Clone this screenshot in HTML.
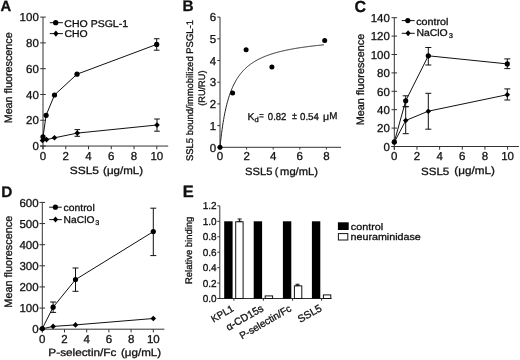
<!DOCTYPE html>
<html><head><meta charset="utf-8"><style>
html,body{margin:0;padding:0;background:#fff;}
svg{display:block;font-family:'Liberation Sans', sans-serif;will-change:transform;}
text{text-rendering:geometricPrecision;fill:#111;stroke:#111;stroke-width:0.3px;}
</style></head><body>
<svg width="520" height="360" viewBox="0 0 520 360">
<rect width="520" height="360" fill="#fff"/>
<text transform="translate(0.43,10.60) scale(0.985,0.985)" font-size="15" font-weight="bold">A</text>
<line x1="43.00" y1="17.10" x2="43.00" y2="149.25" stroke="#333" stroke-width="1"/>
<line x1="40.00" y1="146.05" x2="168.18" y2="146.05" stroke="#333" stroke-width="1"/>
<line x1="40.20" y1="146.05" x2="45.80" y2="146.05" stroke="#333" stroke-width="1"/>
<text x="38.80" y="150.25" font-size="11.5" text-anchor="end" font-weight="normal" >0</text>
<line x1="40.20" y1="120.26" x2="45.80" y2="120.26" stroke="#333" stroke-width="1"/>
<text x="38.80" y="124.46" font-size="11.5" text-anchor="end" font-weight="normal" >20</text>
<line x1="40.20" y1="94.47" x2="45.80" y2="94.47" stroke="#333" stroke-width="1"/>
<text x="38.80" y="98.67" font-size="11.5" text-anchor="end" font-weight="normal" >40</text>
<line x1="40.20" y1="68.68" x2="45.80" y2="68.68" stroke="#333" stroke-width="1"/>
<text x="38.80" y="72.88" font-size="11.5" text-anchor="end" font-weight="normal" >60</text>
<line x1="40.20" y1="42.89" x2="45.80" y2="42.89" stroke="#333" stroke-width="1"/>
<text x="38.80" y="47.09" font-size="11.5" text-anchor="end" font-weight="normal" >80</text>
<line x1="40.20" y1="17.10" x2="45.80" y2="17.10" stroke="#333" stroke-width="1"/>
<text x="38.80" y="21.30" font-size="11.5" text-anchor="end" font-weight="normal" >100</text>
<line x1="43.00" y1="146.05" x2="43.00" y2="149.25" stroke="#333" stroke-width="1"/>
<text x="43.00" y="160.20" font-size="11.5" text-anchor="middle" font-weight="normal" >0</text>
<line x1="65.76" y1="146.05" x2="65.76" y2="149.25" stroke="#333" stroke-width="1"/>
<text x="65.76" y="160.20" font-size="11.5" text-anchor="middle" font-weight="normal" >2</text>
<line x1="88.52" y1="146.05" x2="88.52" y2="149.25" stroke="#333" stroke-width="1"/>
<text x="88.52" y="160.20" font-size="11.5" text-anchor="middle" font-weight="normal" >4</text>
<line x1="111.28" y1="146.05" x2="111.28" y2="149.25" stroke="#333" stroke-width="1"/>
<text x="111.28" y="160.20" font-size="11.5" text-anchor="middle" font-weight="normal" >6</text>
<line x1="134.04" y1="146.05" x2="134.04" y2="149.25" stroke="#333" stroke-width="1"/>
<text x="134.04" y="160.20" font-size="11.5" text-anchor="middle" font-weight="normal" >8</text>
<line x1="156.80" y1="146.05" x2="156.80" y2="149.25" stroke="#333" stroke-width="1"/>
<text x="156.80" y="160.20" font-size="11.5" text-anchor="middle" font-weight="normal" >10</text>
<text transform="translate(69.73,173.75) scale(1.139,1.000)" font-size="10.5">SSL5</text>
<text transform="translate(103.08,174.10) scale(1.097,1.000)" font-size="10.5">(&#956;g/mL)</text>
<text transform="translate(12.03,123.35) scale(1.000,0.998) rotate(-90)" font-size="10.8">Mean fluorescence</text>
<line x1="49.80" y1="22.70" x2="62.90" y2="22.70" stroke="#111" stroke-width="1"/>
<circle cx="55.70" cy="22.70" r="2.65" fill="#000"/>
<line x1="49.80" y1="33.60" x2="62.90" y2="33.60" stroke="#111" stroke-width="1"/>
<path d="M53.30,33.60L55.90,30.50L58.50,33.60L55.90,36.70Z" fill="#000"/>
<text transform="translate(64.36,26.57) scale(1.073,1.000)" font-size="9.8">CHO PSGL-1</text>
<text transform="translate(64.47,37.12) scale(1.065,1.000)" font-size="9.8">CHO</text>
<polyline points="43.00,136.80 46.10,115.30 54.50,95.00 77.00,74.20 156.70,44.40" fill="none" stroke="#111" stroke-width="1"/>
<line x1="156.70" y1="38.75" x2="156.70" y2="50.20" stroke="#111" stroke-width="1"/>
<line x1="153.90" y1="38.75" x2="159.50" y2="38.75" stroke="#111" stroke-width="1"/>
<line x1="153.90" y1="50.20" x2="159.50" y2="50.20" stroke="#111" stroke-width="1"/>
<circle cx="43.00" cy="136.80" r="2.6" fill="#000"/>
<circle cx="46.10" cy="115.30" r="2.6" fill="#000"/>
<circle cx="54.50" cy="95.00" r="2.6" fill="#000"/>
<circle cx="77.00" cy="74.20" r="2.6" fill="#000"/>
<circle cx="156.70" cy="44.40" r="2.6" fill="#000"/>
<polyline points="42.50,140.50 46.50,139.60 54.50,137.80 77.30,133.10 157.00,125.00" fill="none" stroke="#111" stroke-width="1"/>
<line x1="77.30" y1="129.60" x2="77.30" y2="136.30" stroke="#111" stroke-width="1"/>
<line x1="74.50" y1="129.60" x2="80.10" y2="129.60" stroke="#111" stroke-width="1"/>
<line x1="74.50" y1="136.30" x2="80.10" y2="136.30" stroke="#111" stroke-width="1"/>
<line x1="157.00" y1="119.00" x2="157.00" y2="131.20" stroke="#111" stroke-width="1"/>
<line x1="154.20" y1="119.00" x2="159.80" y2="119.00" stroke="#111" stroke-width="1"/>
<line x1="154.20" y1="131.20" x2="159.80" y2="131.20" stroke="#111" stroke-width="1"/>
<path d="M39.70,140.50L42.50,137.70L45.30,140.50L42.50,143.30Z" fill="#000"/>
<path d="M43.70,139.60L46.50,136.80L49.30,139.60L46.50,142.40Z" fill="#000"/>
<path d="M51.70,137.80L54.50,135.00L57.30,137.80L54.50,140.60Z" fill="#000"/>
<path d="M74.50,133.10L77.30,130.30L80.10,133.10L77.30,135.90Z" fill="#000"/>
<path d="M154.20,125.00L157.00,122.20L159.80,125.00L157.00,127.80Z" fill="#000"/>
<text transform="translate(182.49,11.00) scale(1.024,1.024)" font-size="15" font-weight="bold">B</text>
<line x1="220.00" y1="17.10" x2="220.00" y2="149.30" stroke="#333" stroke-width="1"/>
<line x1="220.00" y1="147.30" x2="341.03" y2="147.30" stroke="#333" stroke-width="1"/>
<line x1="217.30" y1="147.30" x2="220.00" y2="147.30" stroke="#333" stroke-width="1"/>
<text x="216.20" y="151.50" font-size="11.5" text-anchor="end" font-weight="normal" >0</text>
<line x1="217.30" y1="125.60" x2="220.00" y2="125.60" stroke="#333" stroke-width="1"/>
<text x="216.20" y="129.80" font-size="11.5" text-anchor="end" font-weight="normal" >1</text>
<line x1="217.30" y1="103.90" x2="220.00" y2="103.90" stroke="#333" stroke-width="1"/>
<text x="216.20" y="108.10" font-size="11.5" text-anchor="end" font-weight="normal" >2</text>
<line x1="217.30" y1="82.20" x2="220.00" y2="82.20" stroke="#333" stroke-width="1"/>
<text x="216.20" y="86.40" font-size="11.5" text-anchor="end" font-weight="normal" >3</text>
<line x1="217.30" y1="60.50" x2="220.00" y2="60.50" stroke="#333" stroke-width="1"/>
<text x="216.20" y="64.70" font-size="11.5" text-anchor="end" font-weight="normal" >4</text>
<line x1="217.30" y1="38.80" x2="220.00" y2="38.80" stroke="#333" stroke-width="1"/>
<text x="216.20" y="43.00" font-size="11.5" text-anchor="end" font-weight="normal" >5</text>
<line x1="217.30" y1="17.10" x2="220.00" y2="17.10" stroke="#333" stroke-width="1"/>
<text x="216.20" y="21.30" font-size="11.5" text-anchor="end" font-weight="normal" >6</text>
<line x1="220.00" y1="147.30" x2="220.00" y2="149.50" stroke="#333" stroke-width="1"/>
<text x="220.00" y="160.30" font-size="11.5" text-anchor="middle" font-weight="normal" >0</text>
<line x1="246.60" y1="147.30" x2="246.60" y2="149.50" stroke="#333" stroke-width="1"/>
<text x="246.60" y="160.30" font-size="11.5" text-anchor="middle" font-weight="normal" >2</text>
<line x1="273.20" y1="147.30" x2="273.20" y2="149.50" stroke="#333" stroke-width="1"/>
<text x="273.20" y="160.30" font-size="11.5" text-anchor="middle" font-weight="normal" >4</text>
<line x1="299.80" y1="147.30" x2="299.80" y2="149.50" stroke="#333" stroke-width="1"/>
<text x="299.80" y="160.30" font-size="11.5" text-anchor="middle" font-weight="normal" >6</text>
<line x1="326.40" y1="147.30" x2="326.40" y2="149.50" stroke="#333" stroke-width="1"/>
<text x="326.40" y="160.30" font-size="11.5" text-anchor="middle" font-weight="normal" >8</text>
<text transform="translate(245.07,174.90) scale(1.063,1.000)" font-size="10.5">SSL5</text>
<text transform="translate(280.10,175.10) scale(1.063,1.000)" font-size="10.5">mg/mL)</text>
<text transform="translate(274.85,175.10)" font-size="10.5">(</text>
<text transform="translate(192.55,161.09) scale(1.000,0.987) rotate(-90)" font-size="9.6">SSL5 bound/immobilized PSGL-1</text>
<text transform="translate(204.62,105.79) scale(1.000,0.981) rotate(-90)" font-size="9.4">(RU/RU)</text>
<polyline points="220.00,147.30 220.52,142.25 221.04,137.63 221.56,133.39 222.08,129.49 222.60,125.87 223.12,122.52 223.64,119.41 224.16,116.51 224.68,113.79 225.20,111.25 225.72,108.87 226.24,106.63 226.76,104.51 227.28,102.52 227.80,100.64 228.32,98.86 228.84,97.17 229.36,95.56 229.88,94.04 230.40,92.58 230.92,91.20 231.44,89.88 231.96,88.62 232.48,87.41 233.00,86.26 233.52,85.16 234.04,84.10 234.56,83.08 235.08,82.11 235.60,81.17 236.12,80.27 236.64,79.40 237.16,78.56 237.68,77.75 238.20,76.98 238.72,76.22 239.24,75.50 239.76,74.80 240.28,74.12 240.80,73.46 241.32,72.83 241.84,72.22 242.36,71.62 242.88,71.04 243.40,70.48 243.92,69.94 244.44,69.41 244.96,68.90 245.48,68.40 246.00,67.92 246.52,67.45 247.04,66.99 247.56,66.54 248.08,66.11 248.60,65.69 249.12,65.28 249.64,64.88 250.16,64.48 250.68,64.10 251.20,63.73 251.72,63.37 252.24,63.01 252.76,62.67 253.28,62.33 253.80,62.00 254.32,61.68 254.84,61.36 255.36,61.06 255.88,60.76 256.40,60.46 256.92,60.17 257.44,59.89 257.96,59.61 258.48,59.34 259.00,59.08 259.52,58.82 260.04,58.57 260.56,58.32 261.08,58.07 261.60,57.83 262.12,57.60 262.64,57.37 263.16,57.14 263.68,56.92 264.20,56.71 264.72,56.49 265.24,56.28 265.76,56.08 266.28,55.88 266.80,55.68 267.32,55.48 267.84,55.29 268.36,55.11 268.88,54.92 269.40,54.74 269.92,54.56 270.44,54.39 270.96,54.21 271.48,54.05 272.00,53.88 272.52,53.72 273.04,53.55 273.56,53.40 274.08,53.24 274.60,53.09 275.12,52.93 275.64,52.79 276.16,52.64 276.68,52.49 277.20,52.35 277.72,52.21 278.24,52.07 278.76,51.94 279.28,51.81 279.80,51.67 280.32,51.54 280.84,51.42 281.36,51.29 281.88,51.16 282.40,51.04 282.92,50.92 283.44,50.80 283.96,50.68 284.48,50.57 285.00,50.45 285.52,50.34 286.04,50.23 286.56,50.12 287.08,50.01 287.60,49.90 288.12,49.80 288.64,49.69 289.16,49.59 289.68,49.49 290.20,49.39 290.72,49.29 291.24,49.19 291.76,49.10 292.28,49.00 292.80,48.91 293.32,48.81 293.84,48.72 294.36,48.63 294.88,48.54 295.40,48.45 295.92,48.37 296.44,48.28 296.96,48.19 297.48,48.11 298.00,48.03 298.52,47.94 299.04,47.86 299.56,47.78 300.08,47.70 300.60,47.62 301.12,47.55 301.64,47.47 302.16,47.39 302.68,47.32 303.20,47.24 303.72,47.17 304.24,47.10 304.76,47.03 305.28,46.95 305.80,46.88 306.32,46.81 306.85,46.74 307.37,46.68 307.89,46.61 308.41,46.54 308.93,46.48 309.45,46.41 309.97,46.35 310.49,46.28 311.01,46.22 311.53,46.16 312.05,46.09 312.57,46.03 313.09,45.97 313.61,45.91 314.13,45.85 314.65,45.79 315.17,45.73 315.69,45.67 316.21,45.62 316.73,45.56 317.25,45.50 317.77,45.45 318.29,45.39 318.81,45.34 319.33,45.28 319.85,45.23 320.37,45.18 320.89,45.12 321.41,45.07 321.93,45.02 322.45,44.97 322.97,44.92 323.49,44.87 324.01,44.82" fill="none" stroke="#222" stroke-width="1"/>
<circle cx="220.00" cy="147.30" r="2.5" fill="#000"/>
<circle cx="232.60" cy="93.00" r="2.5" fill="#000"/>
<circle cx="246.10" cy="49.80" r="2.5" fill="#000"/>
<circle cx="271.90" cy="67.10" r="2.5" fill="#000"/>
<circle cx="324.70" cy="40.50" r="2.5" fill="#000"/>
<text transform="translate(247.52,119.50) scale(1.043,1.000)" font-size="10">K</text>
<text transform="translate(254.44,121.68) scale(1.046,1.000)" font-size="7.2">d</text>
<text transform="translate(259.31,119.38) scale(0.779,1.000)" font-size="10">=</text>
<text transform="translate(267.82,119.50) scale(0.957,1.000)" font-size="10">0.82</text>
<text transform="translate(291.88,119.45) scale(0.900,1.000)" font-size="10">&#177;</text>
<text transform="translate(300.01,119.50) scale(0.971,1.000)" font-size="10">0.54</text>
<text transform="translate(323.11,119.62) scale(1.059,1.000)" font-size="10">&#956;</text>
<text transform="translate(329.37,119.35) scale(0.978,1.000)" font-size="10">M</text>
<text transform="translate(354.38,11.50) scale(1.067,1.067)" font-size="15" font-weight="bold">C</text>
<line x1="394.30" y1="17.70" x2="394.30" y2="149.70" stroke="#333" stroke-width="1"/>
<line x1="391.30" y1="146.50" x2="518.93" y2="146.50" stroke="#333" stroke-width="1"/>
<line x1="391.50" y1="146.50" x2="397.10" y2="146.50" stroke="#333" stroke-width="1"/>
<text x="389.90" y="150.70" font-size="11.5" text-anchor="end" font-weight="normal" >0</text>
<line x1="391.50" y1="128.10" x2="397.10" y2="128.10" stroke="#333" stroke-width="1"/>
<text x="389.90" y="132.30" font-size="11.5" text-anchor="end" font-weight="normal" >20</text>
<line x1="391.50" y1="109.70" x2="397.10" y2="109.70" stroke="#333" stroke-width="1"/>
<text x="389.90" y="113.90" font-size="11.5" text-anchor="end" font-weight="normal" >40</text>
<line x1="391.50" y1="91.30" x2="397.10" y2="91.30" stroke="#333" stroke-width="1"/>
<text x="389.90" y="95.50" font-size="11.5" text-anchor="end" font-weight="normal" >60</text>
<line x1="391.50" y1="72.90" x2="397.10" y2="72.90" stroke="#333" stroke-width="1"/>
<text x="389.90" y="77.10" font-size="11.5" text-anchor="end" font-weight="normal" >80</text>
<line x1="391.50" y1="54.50" x2="397.10" y2="54.50" stroke="#333" stroke-width="1"/>
<text x="389.90" y="58.70" font-size="11.5" text-anchor="end" font-weight="normal" >100</text>
<line x1="391.50" y1="36.10" x2="397.10" y2="36.10" stroke="#333" stroke-width="1"/>
<text x="389.90" y="40.30" font-size="11.5" text-anchor="end" font-weight="normal" >120</text>
<line x1="391.50" y1="17.70" x2="397.10" y2="17.70" stroke="#333" stroke-width="1"/>
<text x="389.90" y="21.90" font-size="11.5" text-anchor="end" font-weight="normal" >140</text>
<line x1="394.30" y1="146.50" x2="394.30" y2="149.70" stroke="#333" stroke-width="1"/>
<text x="394.30" y="160.20" font-size="11.5" text-anchor="middle" font-weight="normal" >0</text>
<line x1="416.96" y1="146.50" x2="416.96" y2="149.70" stroke="#333" stroke-width="1"/>
<text x="416.96" y="160.20" font-size="11.5" text-anchor="middle" font-weight="normal" >2</text>
<line x1="439.62" y1="146.50" x2="439.62" y2="149.70" stroke="#333" stroke-width="1"/>
<text x="439.62" y="160.20" font-size="11.5" text-anchor="middle" font-weight="normal" >4</text>
<line x1="462.28" y1="146.50" x2="462.28" y2="149.70" stroke="#333" stroke-width="1"/>
<text x="462.28" y="160.20" font-size="11.5" text-anchor="middle" font-weight="normal" >6</text>
<line x1="484.94" y1="146.50" x2="484.94" y2="149.70" stroke="#333" stroke-width="1"/>
<text x="484.94" y="160.20" font-size="11.5" text-anchor="middle" font-weight="normal" >8</text>
<line x1="507.60" y1="146.50" x2="507.60" y2="149.70" stroke="#333" stroke-width="1"/>
<text x="507.60" y="160.20" font-size="11.5" text-anchor="middle" font-weight="normal" >10</text>
<text transform="translate(421.00,174.50) scale(1.101,1.000)" font-size="10.5">SSL5</text>
<text transform="translate(454.26,174.40) scale(1.114,1.000)" font-size="10.5">(&#956;g/mL)</text>
<text transform="translate(363.62,125.25) scale(1.000,1.003) rotate(-90)" font-size="10.8">Mean fluorescence</text>
<line x1="401.70" y1="20.60" x2="414.70" y2="20.60" stroke="#111" stroke-width="1"/>
<circle cx="407.80" cy="20.60" r="2.6" fill="#000"/>
<line x1="401.70" y1="33.30" x2="414.70" y2="33.30" stroke="#111" stroke-width="1"/>
<path d="M405.50,33.30L408.10,30.30L410.70,33.30L408.10,36.30Z" fill="#000"/>
<text transform="translate(416.15,24.50) scale(1.097,1.000)" font-size="9.8">control</text>
<text transform="translate(416.40,36.10) scale(1.065,1.000)" font-size="9.8">NaClO</text>
<text transform="translate(448.63,38.33) scale(1.077,1.000)" font-size="7">3</text>
<polyline points="394.30,141.90 405.70,100.80 428.30,55.80 507.30,63.90" fill="none" stroke="#111" stroke-width="1"/>
<polyline points="394.30,142.30 405.70,120.50 428.30,111.20 507.30,94.70" fill="none" stroke="#111" stroke-width="1"/>
<line x1="405.70" y1="95.80" x2="405.70" y2="106.70" stroke="#111" stroke-width="1"/>
<line x1="402.70" y1="95.80" x2="408.70" y2="95.80" stroke="#111" stroke-width="1"/>
<line x1="402.70" y1="106.70" x2="408.70" y2="106.70" stroke="#111" stroke-width="1"/>
<line x1="428.30" y1="47.50" x2="428.30" y2="65.00" stroke="#111" stroke-width="1"/>
<line x1="425.30" y1="47.50" x2="431.30" y2="47.50" stroke="#111" stroke-width="1"/>
<line x1="425.30" y1="65.00" x2="431.30" y2="65.00" stroke="#111" stroke-width="1"/>
<line x1="507.30" y1="58.90" x2="507.30" y2="68.60" stroke="#111" stroke-width="1"/>
<line x1="504.30" y1="58.90" x2="510.30" y2="58.90" stroke="#111" stroke-width="1"/>
<line x1="504.30" y1="68.60" x2="510.30" y2="68.60" stroke="#111" stroke-width="1"/>
<line x1="405.70" y1="106.70" x2="405.70" y2="133.70" stroke="#111" stroke-width="1"/>
<line x1="402.70" y1="106.70" x2="408.70" y2="106.70" stroke="#111" stroke-width="1"/>
<line x1="402.70" y1="133.70" x2="408.70" y2="133.70" stroke="#111" stroke-width="1"/>
<line x1="428.30" y1="93.30" x2="428.30" y2="129.20" stroke="#111" stroke-width="1"/>
<line x1="425.30" y1="93.30" x2="431.30" y2="93.30" stroke="#111" stroke-width="1"/>
<line x1="425.30" y1="129.20" x2="431.30" y2="129.20" stroke="#111" stroke-width="1"/>
<line x1="507.30" y1="88.90" x2="507.30" y2="100.00" stroke="#111" stroke-width="1"/>
<line x1="504.30" y1="88.90" x2="510.30" y2="88.90" stroke="#111" stroke-width="1"/>
<line x1="504.30" y1="100.00" x2="510.30" y2="100.00" stroke="#111" stroke-width="1"/>
<circle cx="394.30" cy="141.90" r="2.6" fill="#000"/>
<circle cx="405.70" cy="100.80" r="2.6" fill="#000"/>
<circle cx="428.30" cy="55.80" r="2.6" fill="#000"/>
<circle cx="507.30" cy="63.90" r="2.6" fill="#000"/>
<path d="M391.50,142.30L394.30,139.50L397.10,142.30L394.30,145.10Z" fill="#000"/>
<path d="M402.90,120.50L405.70,117.70L408.50,120.50L405.70,123.30Z" fill="#000"/>
<path d="M425.50,111.20L428.30,108.40L431.10,111.20L428.30,114.00Z" fill="#000"/>
<path d="M504.50,94.70L507.30,91.90L510.10,94.70L507.30,97.50Z" fill="#000"/>
<text transform="translate(1.24,196.70) scale(1.024,1.024)" font-size="15" font-weight="bold">D</text>
<line x1="42.30" y1="202.42" x2="42.30" y2="332.40" stroke="#333" stroke-width="1"/>
<line x1="39.30" y1="329.20" x2="164.40" y2="329.20" stroke="#333" stroke-width="1"/>
<line x1="39.50" y1="329.20" x2="45.10" y2="329.20" stroke="#333" stroke-width="1"/>
<text x="38.60" y="333.40" font-size="11.5" text-anchor="end" font-weight="normal" >0</text>
<line x1="39.50" y1="308.07" x2="45.10" y2="308.07" stroke="#333" stroke-width="1"/>
<text x="38.60" y="312.27" font-size="11.5" text-anchor="end" font-weight="normal" >100</text>
<line x1="39.50" y1="286.94" x2="45.10" y2="286.94" stroke="#333" stroke-width="1"/>
<text x="38.60" y="291.14" font-size="11.5" text-anchor="end" font-weight="normal" >200</text>
<line x1="39.50" y1="265.81" x2="45.10" y2="265.81" stroke="#333" stroke-width="1"/>
<text x="38.60" y="270.01" font-size="11.5" text-anchor="end" font-weight="normal" >300</text>
<line x1="39.50" y1="244.68" x2="45.10" y2="244.68" stroke="#333" stroke-width="1"/>
<text x="38.60" y="248.88" font-size="11.5" text-anchor="end" font-weight="normal" >400</text>
<line x1="39.50" y1="223.55" x2="45.10" y2="223.55" stroke="#333" stroke-width="1"/>
<text x="38.60" y="227.75" font-size="11.5" text-anchor="end" font-weight="normal" >500</text>
<line x1="39.50" y1="202.42" x2="45.10" y2="202.42" stroke="#333" stroke-width="1"/>
<text x="38.60" y="206.62" font-size="11.5" text-anchor="end" font-weight="normal" >600</text>
<line x1="42.30" y1="329.20" x2="42.30" y2="332.40" stroke="#333" stroke-width="1"/>
<text x="42.30" y="342.60" font-size="11.5" text-anchor="middle" font-weight="normal" >0</text>
<line x1="64.50" y1="329.20" x2="64.50" y2="332.40" stroke="#333" stroke-width="1"/>
<text x="64.50" y="342.60" font-size="11.5" text-anchor="middle" font-weight="normal" >2</text>
<line x1="86.70" y1="329.20" x2="86.70" y2="332.40" stroke="#333" stroke-width="1"/>
<text x="86.70" y="342.60" font-size="11.5" text-anchor="middle" font-weight="normal" >4</text>
<line x1="108.90" y1="329.20" x2="108.90" y2="332.40" stroke="#333" stroke-width="1"/>
<text x="108.90" y="342.60" font-size="11.5" text-anchor="middle" font-weight="normal" >6</text>
<line x1="131.10" y1="329.20" x2="131.10" y2="332.40" stroke="#333" stroke-width="1"/>
<text x="131.10" y="342.60" font-size="11.5" text-anchor="middle" font-weight="normal" >8</text>
<line x1="153.30" y1="329.20" x2="153.30" y2="332.40" stroke="#333" stroke-width="1"/>
<text x="153.30" y="342.60" font-size="11.5" text-anchor="middle" font-weight="normal" >10</text>
<text transform="translate(48.36,356.15) scale(1.121,1.000)" font-size="10.5">P-selectin/Fc</text>
<text transform="translate(120.97,355.90) scale(1.103,1.000)" font-size="10.5">(&#956;g/mL)</text>
<text transform="translate(11.82,307.66) scale(1.000,1.008) rotate(-90)" font-size="10.8">Mean fluorescence</text>
<line x1="49.20" y1="207.20" x2="61.80" y2="207.20" stroke="#111" stroke-width="1"/>
<circle cx="55.40" cy="207.20" r="2.6" fill="#000"/>
<line x1="49.20" y1="219.60" x2="61.80" y2="219.60" stroke="#111" stroke-width="1"/>
<path d="M52.90,219.60L55.50,216.60L58.10,219.60L55.50,222.60Z" fill="#000"/>
<text transform="translate(63.57,211.00) scale(1.058,1.000)" font-size="9.8">control</text>
<text transform="translate(63.61,222.60) scale(1.048,1.000)" font-size="9.8">NaClO</text>
<text transform="translate(95.34,224.68) scale(1.046,1.000)" font-size="7">3</text>
<polyline points="42.30,328.50 53.10,307.20 75.50,279.60 153.30,231.60" fill="none" stroke="#111" stroke-width="1"/>
<polyline points="42.30,328.80 53.10,326.40 75.50,324.90 153.30,318.50" fill="none" stroke="#111" stroke-width="1"/>
<line x1="53.10" y1="302.00" x2="53.10" y2="312.40" stroke="#111" stroke-width="1"/>
<line x1="50.10" y1="302.00" x2="56.10" y2="302.00" stroke="#111" stroke-width="1"/>
<line x1="50.10" y1="312.40" x2="56.10" y2="312.40" stroke="#111" stroke-width="1"/>
<line x1="75.50" y1="268.00" x2="75.50" y2="291.30" stroke="#111" stroke-width="1"/>
<line x1="72.50" y1="268.00" x2="78.50" y2="268.00" stroke="#111" stroke-width="1"/>
<line x1="72.50" y1="291.30" x2="78.50" y2="291.30" stroke="#111" stroke-width="1"/>
<line x1="153.30" y1="208.20" x2="153.30" y2="255.60" stroke="#111" stroke-width="1"/>
<line x1="150.30" y1="208.20" x2="156.30" y2="208.20" stroke="#111" stroke-width="1"/>
<line x1="150.30" y1="255.60" x2="156.30" y2="255.60" stroke="#111" stroke-width="1"/>
<circle cx="42.30" cy="328.50" r="2.6" fill="#000"/>
<circle cx="53.10" cy="307.20" r="2.6" fill="#000"/>
<circle cx="75.50" cy="279.60" r="2.6" fill="#000"/>
<circle cx="153.30" cy="231.60" r="2.6" fill="#000"/>
<path d="M39.50,328.80L42.30,326.00L45.10,328.80L42.30,331.60Z" fill="#000"/>
<path d="M50.30,326.40L53.10,323.60L55.90,326.40L53.10,329.20Z" fill="#000"/>
<path d="M72.70,324.90L75.50,322.10L78.30,324.90L75.50,327.70Z" fill="#000"/>
<path d="M150.50,318.50L153.30,315.70L156.10,318.50L153.30,321.30Z" fill="#000"/>
<text transform="translate(182.86,197.30) scale(1.093,1.093)" font-size="15" font-weight="bold">E</text>
<line x1="219.80" y1="205.86" x2="219.80" y2="298.50" stroke="#333" stroke-width="1"/>
<line x1="217.80" y1="298.50" x2="331.50" y2="298.50" stroke="#333" stroke-width="1"/>
<line x1="217.30" y1="298.50" x2="219.80" y2="298.50" stroke="#333" stroke-width="1"/>
<text x="216.60" y="302.10" font-size="10" text-anchor="end" font-weight="normal" >0.0</text>
<line x1="217.30" y1="283.06" x2="219.80" y2="283.06" stroke="#333" stroke-width="1"/>
<text x="216.60" y="286.66" font-size="10" text-anchor="end" font-weight="normal" >0.2</text>
<line x1="217.30" y1="267.62" x2="219.80" y2="267.62" stroke="#333" stroke-width="1"/>
<text x="216.60" y="271.22" font-size="10" text-anchor="end" font-weight="normal" >0.4</text>
<line x1="217.30" y1="252.18" x2="219.80" y2="252.18" stroke="#333" stroke-width="1"/>
<text x="216.60" y="255.78" font-size="10" text-anchor="end" font-weight="normal" >0.6</text>
<line x1="217.30" y1="236.74" x2="219.80" y2="236.74" stroke="#333" stroke-width="1"/>
<text x="216.60" y="240.34" font-size="10" text-anchor="end" font-weight="normal" >0.8</text>
<line x1="217.30" y1="221.30" x2="219.80" y2="221.30" stroke="#333" stroke-width="1"/>
<text x="216.60" y="224.90" font-size="10" text-anchor="end" font-weight="normal" >1.0</text>
<line x1="217.30" y1="205.86" x2="219.80" y2="205.86" stroke="#333" stroke-width="1"/>
<text x="216.60" y="209.46" font-size="10" text-anchor="end" font-weight="normal" >1.2</text>
<text transform="translate(191.95,284.04) scale(1.000,0.987) rotate(-90)" font-size="9.6">Relative binding</text>
<rect x="224.20" y="221.30" width="8.4" height="77.20" fill="#000"/>
<rect x="235.70" y="221.80" width="7.4" height="76.70" fill="#fff" stroke="#111" stroke-width="1"/>
<line x1="233.90" y1="298.50" x2="233.90" y2="300.70" stroke="#333" stroke-width="1"/>
<rect x="253.70" y="221.30" width="8.4" height="77.20" fill="#000"/>
<rect x="265.20" y="295.91" width="7.4" height="2.59" fill="#fff" stroke="#111" stroke-width="1"/>
<line x1="263.40" y1="298.50" x2="263.40" y2="300.70" stroke="#333" stroke-width="1"/>
<rect x="282.90" y="221.30" width="8.4" height="77.20" fill="#000"/>
<rect x="294.40" y="285.88" width="7.4" height="12.62" fill="#fff" stroke="#111" stroke-width="1"/>
<line x1="292.60" y1="298.50" x2="292.60" y2="300.70" stroke="#333" stroke-width="1"/>
<rect x="311.90" y="221.30" width="8.4" height="77.20" fill="#000"/>
<rect x="323.40" y="294.91" width="7.4" height="3.59" fill="#fff" stroke="#111" stroke-width="1"/>
<line x1="321.60" y1="298.50" x2="321.60" y2="300.70" stroke="#333" stroke-width="1"/>
<line x1="239.60" y1="218.98" x2="239.60" y2="221.30" stroke="#111" stroke-width="1"/>
<line x1="237.60" y1="218.98" x2="241.60" y2="218.98" stroke="#111" stroke-width="1"/>
<line x1="237.60" y1="221.30" x2="241.60" y2="221.30" stroke="#111" stroke-width="1"/>
<line x1="297.50" y1="284.22" x2="297.50" y2="285.38" stroke="#111" stroke-width="1"/>
<line x1="295.50" y1="284.22" x2="299.50" y2="284.22" stroke="#111" stroke-width="1"/>
<line x1="295.50" y1="285.38" x2="299.50" y2="285.38" stroke="#111" stroke-width="1"/>
<text transform="translate(213.61,322.64) scale(1.002,1.002) rotate(-30)" font-size="9.8">KPL1</text>
<text transform="translate(228.39,331.00) scale(1.063,1.063) rotate(-30)" font-size="9.8">&#945;-CD15s</text>
<text transform="translate(241.96,339.47) scale(1.023,1.023) rotate(-30)" font-size="9.8">P-selectin/Fc</text>
<text transform="translate(300.33,323.08) scale(1.067,1.067) rotate(-30)" font-size="9.8">SSL5</text>
<rect x="337.9" y="222.3" width="10.8" height="7.7" fill="#000"/>
<rect x="338.4" y="233.6" width="9.4" height="6.4" fill="#fff" stroke="#111" stroke-width="1"/>
<text transform="translate(350.84,229.82) scale(1.124,1.000)" font-size="9.6">control</text>
<text transform="translate(350.56,240.07) scale(1.116,1.000)" font-size="9.6">neuraminidase</text>
</svg>
</body></html>
